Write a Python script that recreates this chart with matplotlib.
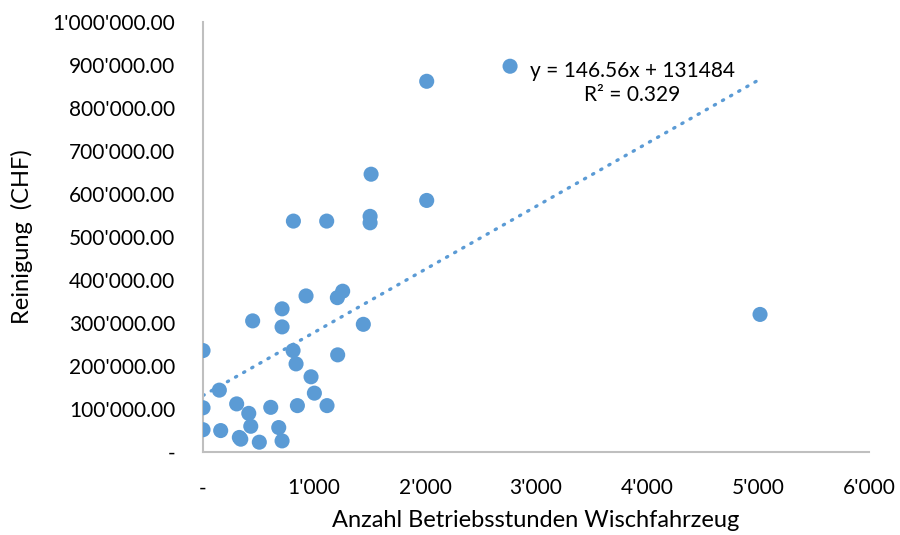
import matplotlib.pyplot as plt
from matplotlib.ticker import FuncFormatter, MultipleLocator

plt.rcParams['font.family'] = ['Lato', 'DejaVu Sans']

# Betriebsstunden Wischfahrzeug vs. Reinigungskosten (CHF)
stunden = [0, 147, 0, 303, 412, 610, 850, 1117, 0, 159, 430, 327, 340, 507,
           682, 712, 811, 838, 973, 1003, 1213, 814, 1114, 1505, 1505, 928,
           1258, 1210, 712, 447, 712, 1444, 2015, 1514, 2015, 5018, 2766]
kosten = [236000, 144000, 103000, 112000, 90000, 104000, 108000, 108000,
          52000, 50000, 60000, 34000, 30000, 23000, 57000, 26000, 236000,
          205000, 175000, 137000, 226000, 537000, 537000, 548000, 533000,
          363000, 374000, 359000, 333000, 305000, 291000, 297000, 862000,
          646000, 585000, 320000, 897000]

# linear trend (Excel)
slope = 146.56
intercept = 131484
r2 = 0.329

blue = '#5B9BD5'

fig = plt.figure(figsize=(9, 5.35), dpi=100)
ax = fig.add_axes([0.2256, 0.155, 0.74, 0.804])

ax.scatter(stunden, kosten, s=118, color=blue, edgecolors='none', zorder=3)

x0, x1 = min(stunden), max(stunden)
ax.plot([x0, x1], [slope * x0 + intercept, slope * x1 + intercept],
        color=blue, lw=2.4, linestyle=(0, (0.4, 2.4)),
        dash_capstyle='round', zorder=2)

ax.text(3865, 858000, f"y = {slope}x + {intercept}\nR² = {r2}",
        ha='center', va='center', fontsize=15, linespacing=1.25)

ax.set_xlim(0, 6000)
ax.set_ylim(0, 1000000)
ax.xaxis.set_major_locator(MultipleLocator(1000))
ax.yaxis.set_major_locator(MultipleLocator(100000))


def fmt_y(v, pos):
    if v == 0:
        return '-'
    return f"{v:,.2f}".replace(',', "'")


def fmt_x(v, pos):
    if v == 0:
        return '-'
    return f"{v:,.0f}".replace(',', "'")


ax.yaxis.set_major_formatter(FuncFormatter(fmt_y))
ax.xaxis.set_major_formatter(FuncFormatter(fmt_x))

for s in ['top', 'right']:
    ax.spines[s].set_visible(False)
for s in ['left', 'bottom']:
    ax.spines[s].set_color('#BFBFBF')
    ax.spines[s].set_linewidth(1.5)

ax.tick_params(axis='both', length=0, labelsize=15, colors='black')
ax.tick_params(axis='y', pad=20)
ax.tick_params(axis='x', pad=19)

ax.set_xlabel('Anzahl Betriebsstunden Wischfahrzeug', fontsize=17, labelpad=8)
ax.set_ylabel('Reinigung  (CHF)', fontsize=17, labelpad=14)

fig.savefig('out.png', dpi=100)
